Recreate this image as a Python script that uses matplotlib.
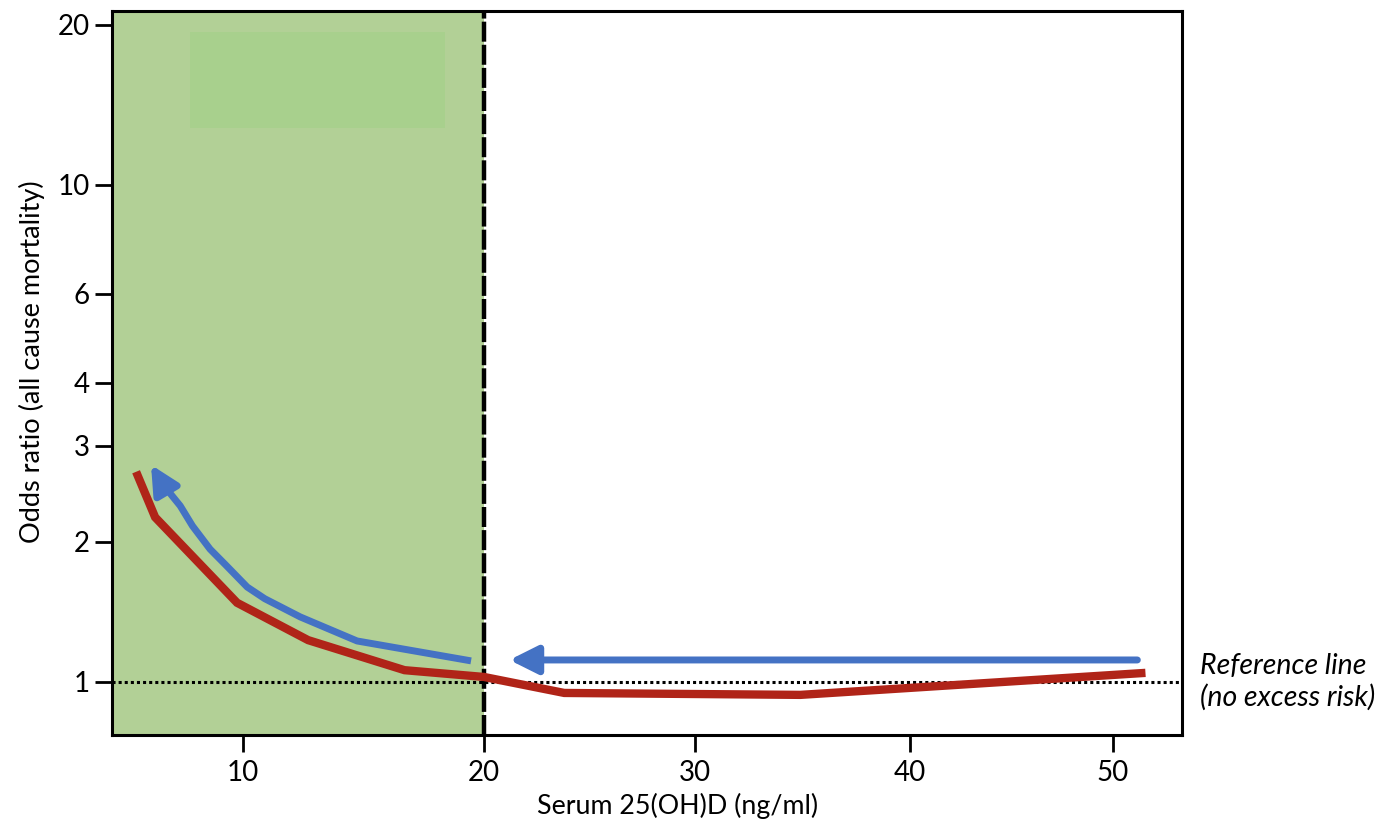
import numpy as np
import matplotlib
matplotlib.use("Agg")
import matplotlib.pyplot as plt
from matplotlib.patches import Rectangle

plt.rcParams['font.family'] = ['Lato', 'DejaVu Sans']

# ---- data ----
red_x = [5.56, 6.35, 9.75, 12.7, 16.7, 20.0, 23.8, 34.9, 51.6]
red_y = [2.69, 2.22, 1.48, 1.23, 1.06, 1.025, 0.947, 0.938, 1.046]

blue_curve_x = [19.46, 14.73, 12.37, 10.9, 10.17, 9.3, 8.63, 7.9, 7.39, 6.64]
blue_curve_y = [1.11, 1.225, 1.38, 1.51, 1.60, 1.78, 1.93, 2.14, 2.33, 2.56]
blue_curve_tip = (6.18, 2.77)

blue_straight_start = (51.2, 1.115)
blue_straight_tip = (21.2, 1.115)

threshold = 20
reference = 1.0
x_ticks = [10, 20, 30, 40, 50]
y_ticks = [1, 2, 3, 4, 6, 10, 20]
inner_box_x = (7.8, 18.38)
inner_box_y = (12.8, 19.4)

# ---- axis scale calibration (hand-drawn axes) ----
_xs = np.array([0, 10, 20, 30, 40, 50, 70], float)
_xp = np.array([2, 243, 484, 695, 910, 1113, 1519], float)
def xf(v):
    return np.interp(v, _xs, _xp)
def xi(p):
    return np.interp(p, _xp, _xs)

_ys = np.log10(np.array([0.5, 1, 2, 3, 4, 6, 10, 20, 40], float))
_yp = np.array([0, 140, 280, 376, 439, 528, 637, 797, 957], float)
def yf(v):
    v = np.clip(np.asarray(v, float), 1e-6, None)
    return np.interp(np.log10(v), _ys, _yp)
def yi(p):
    return 10 ** np.interp(p, _yp, _ys)

fig = plt.figure(figsize=(13.81, 8.22), dpi=100)
ax = fig.add_axes([112/1381, 1-735/822, (1182-112)/1381, (735-11)/822])
ax.set_xscale('function', functions=(xf, xi))
ax.set_yscale('function', functions=(yf, yi))
ax.set_xlim(4.56, 53.4)
ax.set_ylim(0.769, 21.25)

green = '#b2d096'
ax.axvspan(ax.get_xlim()[0], threshold, color=green, zorder=0, lw=0)
ax.add_patch(Rectangle((inner_box_x[0], inner_box_y[0]), inner_box_x[1]-inner_box_x[0],
                       inner_box_y[1]-inner_box_y[0], color='#a8d08d', lw=0, zorder=0.5))

ax.axhline(reference, color='black', lw=2.2, ls=(0, (1, 1)), zorder=2)
ax.axvline(threshold, color='black', lw=3.2, ls=(0, (4.5, 0.7)), zorder=3)

red = '#b02418'
blue = '#4472c4'
ax.plot(red_x, red_y, color=red, lw=6, solid_joinstyle='miter', solid_capstyle='butt', zorder=5)

ax.plot(blue_curve_x, blue_curve_y, color=blue, lw=5, solid_capstyle='butt',
        solid_joinstyle='round', zorder=4)
arrow_style = '-|>,head_length=1.7,head_width=0.85'
ax.annotate('', xy=blue_curve_tip, xytext=(blue_curve_x[-1], blue_curve_y[-1]),
            arrowprops=dict(arrowstyle=arrow_style, color=blue, lw=5, shrinkA=0, shrinkB=0),
            zorder=4)
ax.annotate('', xy=blue_straight_tip, xytext=blue_straight_start,
            arrowprops=dict(arrowstyle=arrow_style, color=blue, lw=5, shrinkA=0, shrinkB=0),
            zorder=4)

ax.set_xticks(x_ticks)
ax.set_xticklabels([str(t) for t in x_ticks])
ax.set_yticks(y_ticks)
ax.set_yticklabels([str(t) for t in y_ticks])
ax.minorticks_off()
ax.tick_params(axis='both', direction='out', length=12, width=2, labelsize=20, color='black')
ax.tick_params(axis='y', pad=4)
ax.tick_params(axis='x', pad=6)
for s in ax.spines.values():
    s.set_linewidth(2.2)
    s.set_color('black')

fig.text(32/1381, 1-362/822, 'Odds ratio (all cause mortality)', rotation=90,
         ha='center', va='center', fontsize=19.5)
fig.text(678/1381, 1-806/822, 'Serum 25(OH)D (ng/ml)', ha='center', va='center', fontsize=19.3)
fig.text(1200/1381, 1-682/822, 'Reference line\n(no excess risk)', ha='left', va='center',
         fontsize=20.5, style='italic', linespacing=1.2)

fig.savefig('out.png', dpi=100)
